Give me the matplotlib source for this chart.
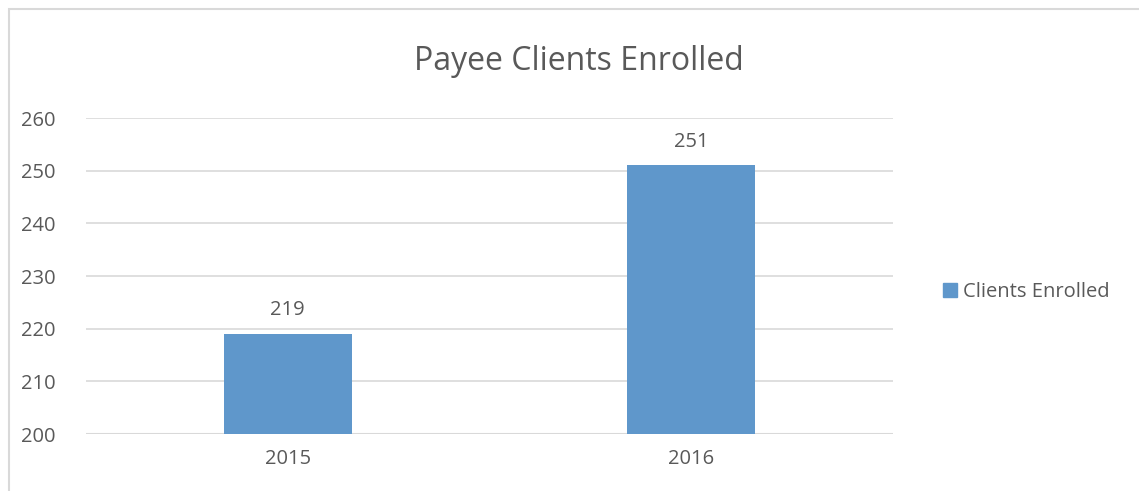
import matplotlib.pyplot as plt
from matplotlib.patches import Rectangle, Patch

years = ['2015', '2016']
clients = [219, 251]
yticks = [200, 210, 220, 230, 240, 250, 260]

plt.rcParams['font.family'] = ['Open Sans', 'DejaVu Sans']
txt = '#595959'
bar_color = '#5f97cb'

fig = plt.figure(figsize=(11.39, 4.91), dpi=100)
ax = fig.add_axes([86 / 1139, 57 / 491, 807 / 1139, 316 / 491])

x = list(range(len(years)))
bars = ax.bar(x, [c - 200 for c in clients], bottom=200, width=0.317, color=bar_color, zorder=3)
for xi, c in zip(x, clients):
    ax.text(xi, c + 2.6, str(c), ha='center', va='bottom', fontsize=14.5, color=txt)

ax.set_xlim(-0.5, 1.5)
ax.set_ylim(200, 260)
ax.set_yticks(yticks)
ax.set_xticks(x)
ax.set_xticklabels(years)
ax.tick_params(axis='both', length=0, labelsize=14.5, colors=txt)
ax.tick_params(axis='y', pad=22)
ax.tick_params(axis='x', pad=11)
ax.grid(axis='y', color='#d9d9d9', linewidth=1.2, zorder=0)
for s in ax.spines.values():
    s.set_visible(False)
ax.axhline(200, color='#d9d9d9', linewidth=1.5, zorder=2)

fig.text(579 / 1139, 1 - 62 / 491, 'Payee Clients Enrolled', ha='center', va='center',
         fontsize=23, color=txt)

handle = Patch(color=bar_color)
fig.legend([handle], ['Clients Enrolled'], loc='center left', bbox_to_anchor=(925 / 1139, 1 - 292 / 491),
           frameon=False, fontsize=14.5, labelcolor=txt, handlelength=0.7, handleheight=0.7,
           handletextpad=0.3)

fig.patches.append(Rectangle((8.5 / 1139, -0.1), 1.2, 1 - 8.5 / 491 + 0.1, transform=fig.transFigure,
                             fill=False, edgecolor='#d9d9d9', linewidth=1.5))

fig.savefig('out.png', dpi=100)
